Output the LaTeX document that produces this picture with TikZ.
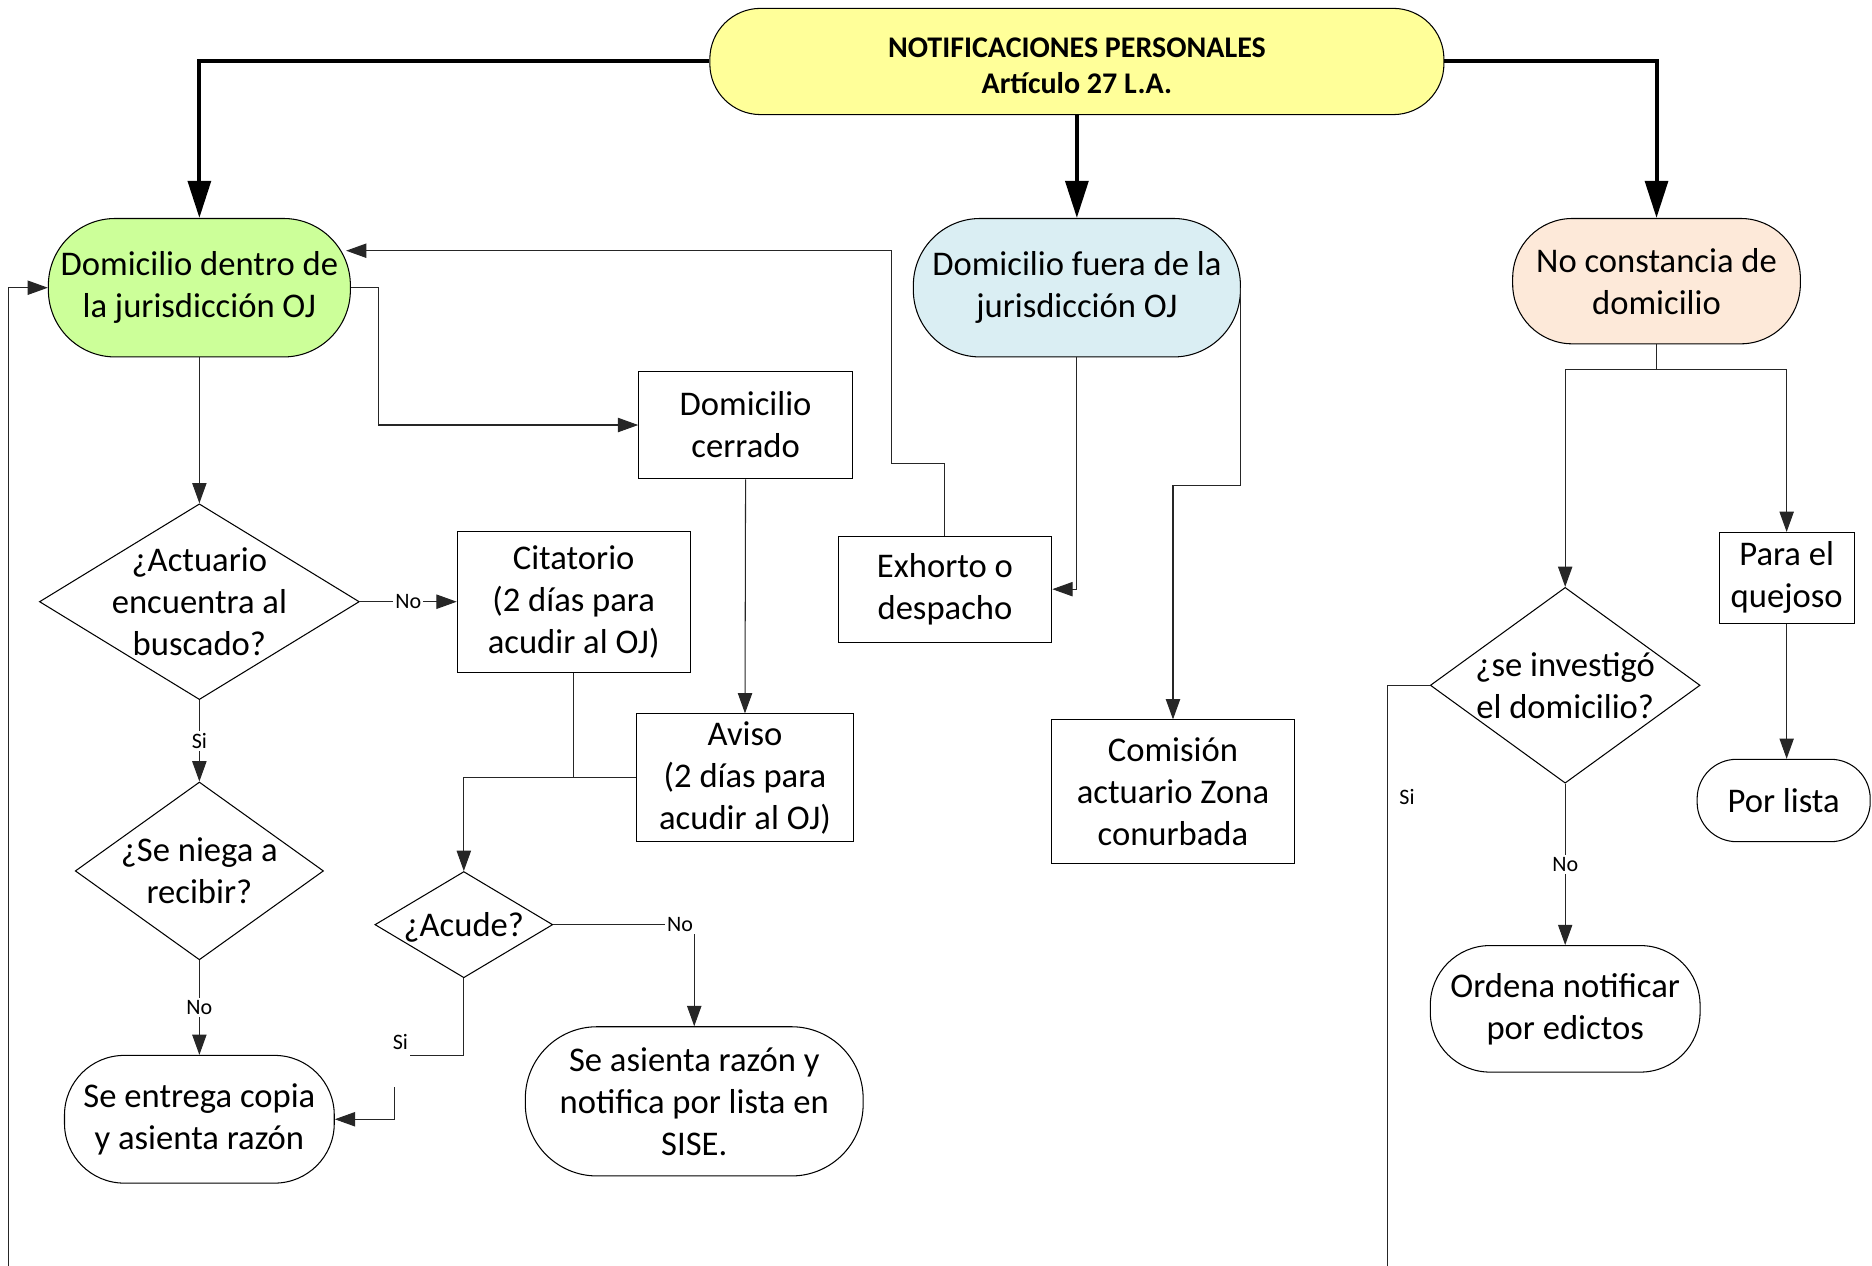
\documentclass[tikz,border=0pt]{standalone}
\usepackage{fontspec}
\setmainfont{Carlito}
\usepackage{tikz}
\usetikzlibrary{arrows.meta}
\usetikzlibrary{shapes.geometric}
\usetikzlibrary{calc}

\definecolor{titleyellow}{RGB}{255,255,153}
\definecolor{insidegreen}{RGB}{204,255,153}
\definecolor{outsideblue}{RGB}{218,238,243}
\definecolor{unknownpeach}{RGB}{253,233,217}

\newcommand{\nodesize}{\fontsize{16.5}{20}\selectfont}
\newcommand{\titlesize}{\fontsize{14.3}{17}\selectfont\bfseries}
\newcommand{\labelsize}{\fontsize{10.5}{12}\selectfont}
% text kept out of the size of the shape
\newcommand{\qtext}[2][6pt]{\makebox[0pt]{\smash{\raisebox{-#1}{\begin{tabular}{@{}c@{}}#2\end{tabular}}}}}

\begin{document}
\begin{tikzpicture}[x=0.02cm,y=-0.02cm,
        box/.style={draw,line width=0.5pt,align=center,inner sep=2pt,font=\nodesize},
        term/.style={box,rounded corners=#1},
        decision/.style={draw,diamond,line width=0.5pt,inner sep=0pt,font=\nodesize},
        line/.style={draw=black!85,line width=0.5pt},
        arr/.style={line,-{Triangle[length=0.34cm,width=0.24cm]}},
        bigarr/.style={line width=1.9pt,-{Triangle[length=0.62cm,width=0.38cm]}},
        lbl/.style={fill=white,inner sep=1pt,font=\labelsize},
        siblank/.style={lbl,text width=0.45cm,align=right,text height=0.385cm,text depth=0.585cm}]

        \useasboundingbox (0,0) rectangle (1568,1060);

        % Draw title and the three cases
        \node[term=0.85cm,fill=titleyellow,minimum width=12.3cm,minimum height=1.78cm,inner sep=0pt,font=\titlesize]
            (notif) at (902,51.5) {\qtext[6.8pt]{NOTIFICACIONES PERSONALES\\Artículo 27 L.A.}};
        \node[term=1.12cm,fill=insidegreen,minimum width=5.06cm,minimum height=2.32cm]
            (dentro) at (167,241) {Domicilio dentro de\\la jurisdicción OJ};
        \node[term=1.12cm,fill=outsideblue,minimum width=5.48cm,minimum height=2.32cm]
            (fuera) at (902,241) {Domicilio fuera de la\\jurisdicción OJ};
        \node[term=1.0cm,fill=unknownpeach,minimum width=4.82cm,minimum height=2.1cm]
            (sinconst) at (1387.5,235.5) {No constancia de\\domicilio};

        % Draw boxes
        \node[box,minimum width=3.58cm,minimum height=1.8cm] (cerrado) at (624.5,356) {Domicilio\\cerrado};
        \node[box,minimum width=3.58cm,minimum height=1.78cm] (exhorto) at (791.5,493.5) {Exhorto o\\despacho};
        \node[box,minimum width=4.06cm,minimum height=2.4cm] (comision) at (982.5,663) {Comisión\\actuario Zona\\conurbada};
        \node[box,minimum width=3.9cm,minimum height=2.36cm] (citatorio) at (480.5,504) {Citatorio\\(2 días para\\acudir al OJ)};
        \node[box,minimum width=3.64cm,minimum height=2.14cm] (aviso) at (624,651.5) {Aviso\\(2 días para\\acudir al OJ)};
        \node[box,minimum width=2.26cm,minimum height=1.52cm] (quejoso) at (1496.5,484) {Para el\\quejoso};

        % Draw decisions
        \node[decision,minimum width=5.36cm,minimum height=3.28cm] (encuentra) at (167,504) {\qtext{¿Actuario\\encuentra al\\buscado?}};
        \node[decision,minimum width=4.16cm,minimum height=2.98cm] (niega) at (167,729.5) {\qtext{¿Se niega a\\recibir?}};
        \node[decision,minimum width=2.98cm,minimum height=1.78cm] (acude) at (388.5,774.5) {\qtext{¿Acude?}};
        \node[decision,minimum width=4.52cm,minimum height=3.28cm] (investigo) at (1311,574) {\qtext{¿se investigó\\el domicilio?}};

        % Draw ends
        \node[term=1.0cm,minimum width=4.52cm,minimum height=2.14cm] (entrega) at (167,937.5) {Se entrega copia\\y asienta razón};
        \node[term=1.2cm,minimum width=5.66cm,minimum height=2.5cm] (asienta) at (581.5,922.5) {Se asienta razón y\\notifica por lista en\\SISE.};
        \node[term=1.0cm,minimum width=4.52cm,minimum height=2.12cm] (edictos) at (1311,845) {Ordena notificar\\por edictos};
        \node[term=0.66cm,minimum width=2.9cm,minimum height=1.38cm] (porlista) at (1494,670.5) {Por lista};

        \coordinate (backin) at (7,1070);
        \coordinate (siout) at (1162,1070);

        % Draw edges
        \draw[bigarr] (notif.west) -| (dentro.north);
        \draw[bigarr] (notif.south) -- (fuera.north);
        \draw[bigarr] (notif.east) -| (sinconst.north);

        \def \conn#1#2{\draw[arr] (#1) -- (#2);}
        \conn{dentro.south}{encuentra.north}
        \conn{cerrado.south}{aviso.north}
        \conn{quejoso.south}{quejoso.south |- porlista.north}

        \draw[arr] (encuentra.east) -- node[lbl] (no1) {No} (citatorio.west);
        \draw[arr] (encuentra.south) -- node[lbl] (si1) {Si} (niega.north);
        \draw[arr] (niega.south) -- node[lbl] (no2) {No} (entrega.north);
        \draw[arr] (investigo.south) -- node[lbl] (no4) {No} (edictos.north);

        \draw[arr] (dentro.east) -- ++(23,0) |- (cerrado.west);
        \draw[arr] (exhorto.north) -- ++(0,-60) -- ++(-45,0) |- ($(dentro.east)+(-4,-31)$);
        \draw[arr] (fuera.south) |- (exhorto.east);
        \draw[arr] (fuera.east) -- ++(0,166) -| (comision.north);

        \draw[line] (citatorio.south) -- (citatorio.south |- aviso.west);
        \draw[arr] (aviso.west) -| (acude.north);
        \draw[arr] (acude.east) -| node[lbl,pos=0.45] (no3) {No} (asienta.north);
        \draw[arr] (acude.south) -- ++(0,65) -- ++(-58,0) node[siblank] (si2) {Si} |- (entrega.east);

        \draw[line] (sinconst.south) -- ++(0,21) coordinate (split);
        \draw[arr] (split) -| (investigo.north);
        \draw[arr] (split) -| (quejoso.north);
        \draw[line] (investigo.west) -| node[lbl,pos=0.594,right=0.16cm] (si3) {Si} (siout);
        \draw[arr] (backin) |- (dentro.west);

    \end{tikzpicture}
\end{document}
